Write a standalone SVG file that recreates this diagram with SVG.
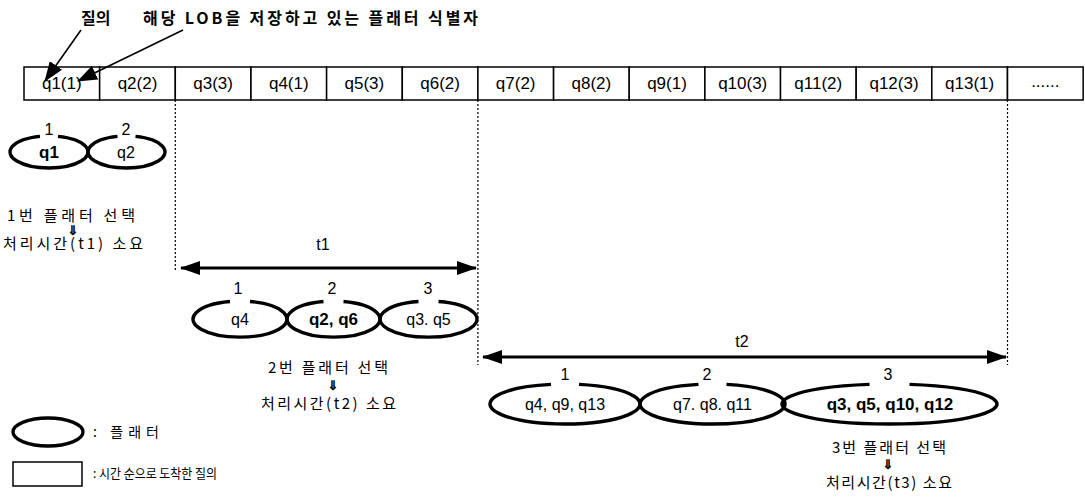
<svg xmlns="http://www.w3.org/2000/svg" width="1085" height="497" viewBox="0 0 1085 497">
<style>
.bg{fill:#fff}
.box rect{fill:#fff;stroke:#000;stroke-width:1.5}
.bt{font-family:"Liberation Sans",Arial,sans-serif;font-size:17px;text-anchor:middle;fill:#000}
.kr{font-family:"Noto Sans CJK KR","Liberation Sans",sans-serif;font-size:15px;fill:#000}
.krs{font-family:"Noto Sans CJK KR","Liberation Sans",sans-serif;font-size:14px;fill:#000}
.krl{font-family:"Noto Sans CJK KR","Liberation Sans",sans-serif;font-size:13px;fill:#000}
.krb{font-family:"Noto Sans CJK KR","Liberation Sans",sans-serif;font-size:16px;font-weight:bold;fill:#000}
.arr{font-family:"DejaVu Sans",sans-serif;font-size:13px;text-anchor:middle;fill:#000;stroke:#000;stroke-width:0.6}
.ov{fill:none;stroke:#000;stroke-width:3.4}
.lab{font-family:"Liberation Sans",Arial,sans-serif;font-size:16px;text-anchor:middle;fill:#000}
.ot{font-family:"Liberation Sans",Arial,sans-serif;font-size:16px;text-anchor:middle;fill:#000}
.otb{font-family:"Liberation Sans",Arial,sans-serif;font-size:17px;font-weight:bold;text-anchor:middle;fill:#000}
.dash{stroke:#000;stroke-width:1.2;stroke-dasharray:2 2;fill:none}
.dim{stroke:#000;stroke-width:3;fill:none}
.ptr{stroke:#000;stroke-width:1.6;fill:none}
</style>
<defs>
<marker id="ah" viewBox="0 0 20 14" refX="19" refY="7" markerWidth="20" markerHeight="14" markerUnits="userSpaceOnUse" orient="auto-start-reverse"><path d="M0,0 L20,7 L0,14 z" fill="#000"/></marker>
<marker id="ap" viewBox="0 0 20 15" refX="19" refY="7.5" markerWidth="20" markerHeight="15" markerUnits="userSpaceOnUse" orient="auto"><path d="M0,0 L20,7.5 L0,15 z" fill="#000"/></marker>
</defs>
<rect class="bg" x="0" y="0" width="1085" height="497"/>

<g id="title">
<text class="krb" x="81" y="24">질의</text>
<text class="krb" x="143" y="24" textLength="335" lengthAdjust="spacing">해당 LOB을 저장하고 있는 플래터 식별자</text>
</g>

<g id="queue">
<g id="b1" class="box"><rect x="24" y="67" width="75.65" height="33"/><text class="bt" x="61.8" y="89">q1(1)</text></g>
<g id="b2" class="box"><rect x="99.65" y="67" width="75.65" height="33"/><text class="bt" x="137.5" y="89">q2(2)</text></g>
<g id="b3" class="box"><rect x="175.3" y="67" width="75.65" height="33"/><text class="bt" x="213.1" y="89">q3(3)</text></g>
<g id="b4" class="box"><rect x="251" y="67" width="75.65" height="33"/><text class="bt" x="288.8" y="89">q4(1)</text></g>
<g id="b5" class="box"><rect x="326.6" y="67" width="75.65" height="33"/><text class="bt" x="364.4" y="89">q5(3)</text></g>
<g id="b6" class="box"><rect x="402.3" y="67" width="75.65" height="33"/><text class="bt" x="440.1" y="89">q6(2)</text></g>
<g id="b7" class="box"><rect x="477.9" y="67" width="75.65" height="33"/><text class="bt" x="515.7" y="89">q7(2)</text></g>
<g id="b8" class="box"><rect x="553.6" y="67" width="75.65" height="33"/><text class="bt" x="591.4" y="89">q8(2)</text></g>
<g id="b9" class="box"><rect x="629.2" y="67" width="75.65" height="33"/><text class="bt" x="667" y="89">q9(1)</text></g>
<g id="b10" class="box"><rect x="704.9" y="67" width="75.65" height="33"/><text class="bt" x="742.7" y="89">q10(3)</text></g>
<g id="b11" class="box"><rect x="780.5" y="67" width="75.65" height="33"/><text class="bt" x="818.3" y="89">q11(2)</text></g>
<g id="b12" class="box"><rect x="856.2" y="67" width="75.65" height="33"/><text class="bt" x="894" y="89">q12(3)</text></g>
<g id="b13" class="box"><rect x="931.8" y="67" width="75.65" height="33"/><text class="bt" x="969.6" y="89">q13(1)</text></g>
<g id="b14" class="box"><rect x="1007.5" y="67" width="75.65" height="33"/><text class="bt" x="1045.3" y="87">......</text></g>
</g>

<g id="connectors">
<line class="ptr" x1="81" y1="30" x2="45" y2="81" marker-end="url(#ap)"/>
<line class="ptr" x1="183" y1="30" x2="78" y2="81" marker-end="url(#ap)"/>
<line class="dash" x1="175.3" y1="100" x2="175.3" y2="272"/>
<line class="dash" x1="477.9" y1="100" x2="477.9" y2="365"/>
<line class="dash" x1="1007.5" y1="100" x2="1007.5" y2="365"/>
<line class="dim" x1="181" y1="268" x2="476" y2="268" marker-start="url(#ah)" marker-end="url(#ah)"/>
<line class="dim" x1="483" y1="357" x2="1006" y2="357" marker-start="url(#ah)" marker-end="url(#ah)"/>
</g>

<g id="round1">
<g id="p1a"><path class="ov" d="M40,136.4 A39,16 0 1,0 58,136.4"/><text class="lab" x="49" y="135">1</text><text class="otb" x="49" y="158">q1</text></g>
<g id="p1b"><path class="ov" d="M117.5,136.4 A38.5,16 0 1,0 135.5,136.4"/><text class="lab" x="126" y="135">2</text><text class="ot" x="126" y="158">q2</text></g>
<text class="kr" x="7" y="221" textLength="128" lengthAdjust="spacing">1번 플래터 선택</text>
<text class="arr" x="73" y="235">⇓</text>
<text class="kr" x="3" y="249" textLength="140" lengthAdjust="spacing">처리시간(t1) 소요</text>
</g>

<g id="t1label"><text class="ot" x="323" y="250">t1</text></g>

<g id="round2">
<g id="p2a"><path class="ov" d="M230,301.5 A47,18 0 1,0 250,301.5"/><text class="lab" x="238" y="294">1</text><text class="ot" x="240" y="325">q4</text></g>
<g id="p2b"><path class="ov" d="M323.5,301.5 A46.5,18 0 1,0 343.5,301.5"/><text class="lab" x="332" y="294">2</text><text class="otb" x="333.5" y="325">q2, q6</text></g>
<g id="p2c"><path class="ov" d="M418.5,301.5 A48.5,18 0 1,0 438.5,301.5"/><text class="lab" x="428" y="294">3</text><text class="ot" x="428.5" y="325">q3. q5</text></g>
<text class="kr" x="268" y="373" textLength="120" lengthAdjust="spacing">2번 플래터 선택</text>
<text class="arr" x="333" y="390">⇓</text>
<text class="kr" x="261" y="409" textLength="135" lengthAdjust="spacing">처리시간(t2) 소요</text>
</g>

<g id="t2label"><text class="ot" x="742" y="347">t2</text></g>

<g id="round3">
<g id="p3a"><path class="ov" d="M551,384.4 A75,20 0 1,0 579,384.4"/><text class="lab" x="565" y="380">1</text><text class="ot" x="565" y="410">q4, q9, q13</text></g>
<g id="p3b"><path class="ov" d="M698.5,384.4 A72.5,20 0 1,0 726.5,384.4"/><text class="lab" x="707" y="380">2</text><text class="ot" x="712.5" y="410">q7. q8. q11</text></g>
<g id="p3c"><path class="ov" d="M869.5,384.4 A107.5,20 0 1,0 909.5,384.4"/><text class="lab" x="888" y="380">3</text><text class="otb" x="890" y="410">q3, q5, q10, q12</text></g>
<text class="kr" x="832" y="453" textLength="114" lengthAdjust="spacing">3번 플래터 선택</text>
<text class="arr" x="888" y="469">⇓</text>
<text class="kr" x="826" y="488" textLength="126" lengthAdjust="spacing">처리시간(t3) 소요</text>
</g>

<g id="legend">
<ellipse class="ov" cx="48" cy="432" rx="35" ry="14"/>
<text class="krs" x="93" y="437" textLength="66" lengthAdjust="spacing">: 플래터</text>
<rect x="13" y="462" width="69" height="24" fill="#fff" stroke="#000" stroke-width="1.5"/>
<text class="krl" x="93" y="478" textLength="124" lengthAdjust="spacingAndGlyphs">: 시간 순으로 도착한 질의</text>
</g>
</svg>
